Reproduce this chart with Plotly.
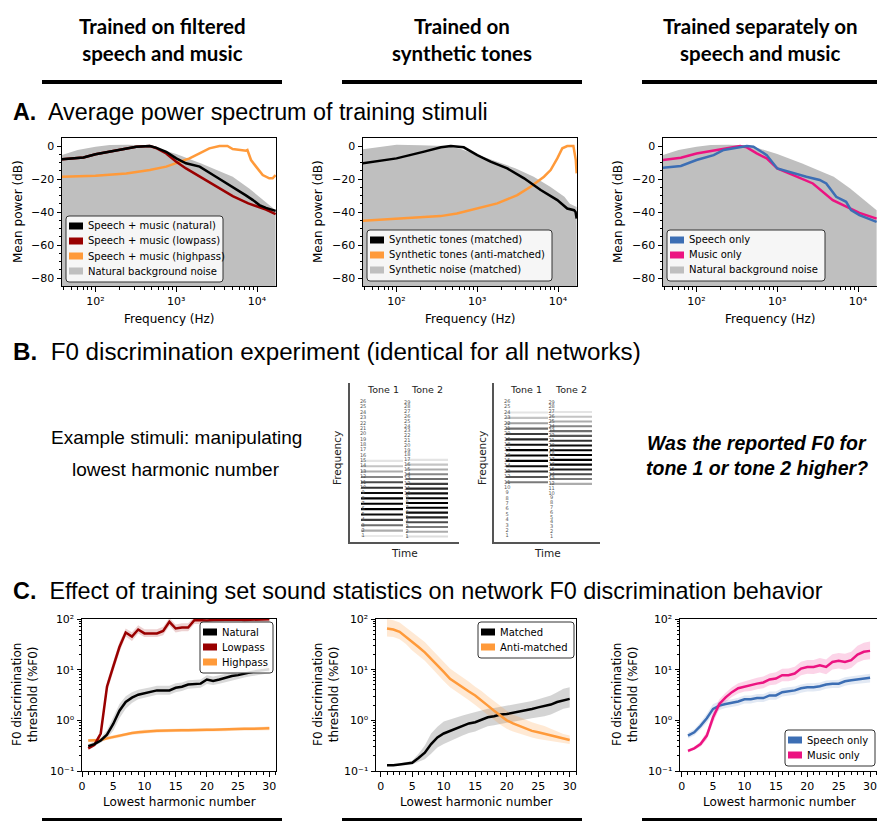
import plotly.graph_objects as go

W, H = 877, 821

# ======================= DATA =======================
# --- Panel A1: filtered speech and music (frequency in Hz, power in dB)
a1_nat_f = [38, 71, 100, 150, 240, 320, 470, 560, 750, 1000, 1320, 1950, 3100, 5000, 7200, 8900, 10700, 12900, 17000]
a1_nat_db = [-8, -7, -5, -3.5, -1.5, -0.5, 0, -1, -3.5, -7.5, -10.5, -12.5, -18.6, -24.7, -29.8, -32.8, -35.8, -37.5, -39.3]
a1_low_f = [38, 71, 100, 150, 240, 320, 470, 560, 750, 1000, 1320, 1950, 3100, 5000, 7800, 12900, 17000]
a1_low_db = [-8, -7, -5, -3.5, -1.5, -0.5, 0, -1.2, -4.5, -9.5, -13.6, -18.6, -24.7, -30.4, -34.8, -38.5, -41.3]
a1_high_f = [38, 100, 240, 470, 750, 1000, 1460, 1940, 2570, 3430, 4300, 5000, 7310, 7600, 8430, 9730, 11760, 14190, 15600, 17000]
a1_high_db = [-18.6, -18, -16.6, -14.6, -12.5, -10.5, -7.5, -4.5, -1.4, 0, 0, -1.8, -2.8, -2.4, -8.5, -12.5, -17.6, -19.6, -19.6, -17.6]
noise_nat_f = [38, 60, 100, 150, 250, 400, 600, 1000, 2000, 3000, 5000, 8000, 10000, 12500, 17000]
noise_nat_db = [-5.5, -2.4, -0.4, 0.6, 0.8, 0.4, -1.5, -4.9, -10.5, -14, -18.6, -25.7, -29.8, -33.8, -39]

# --- Panel A2: synthetic tones
a2_noise_f = [38, 70, 100, 200, 400, 600, 1000, 2000, 3000, 5000, 8000, 12000, 14000, 17000]
a2_noise_db = [-2, -0.5, 0.8, 0.5, 0, -1.5, -5.5, -10.5, -13.6, -18.6, -24.7, -30.8, -35, -37]
a2_match_f = [38, 100, 220, 355, 470, 680, 1000, 1460, 2350, 3800, 6100, 9800, 13000, 15800, 16500, 17000]
a2_match_db = [-10.5, -7.5, -3.4, -0.8, 0, -0.8, -5.5, -9.5, -13.6, -19.6, -26.7, -32.8, -37.9, -38.9, -40, -44]
a2_anti_f = [38, 100, 350, 560, 1000, 1770, 3130, 4570, 6700, 8100, 9800, 11300, 13000, 15500, 16600, 17000]
a2_anti_db = [-45.3, -44, -42.5, -40.9, -37.9, -34.8, -29.8, -24.7, -18.6, -14.6, -7.5, -1.4, 0, 0, -8.5, -16.6]

# --- Panel A3: speech only / music only
a3_speech_f = [38, 64, 100, 163, 217, 316, 420, 507, 740, 1000, 1575, 2290, 3350, 4040, 5370, 7120, 8200, 10400, 17000]
a3_speech_db = [-13.2, -12.1, -8.5, -5.5, -2.4, -0.8, 0, -0.4, -5.5, -13.6, -16.6, -18.6, -20.6, -22.7, -30.8, -33.8, -38.9, -41.9, -46]
a3_music_f = [38, 64, 100, 163, 262, 347, 420, 557, 740, 1000, 1575, 2760, 4870, 7120, 10400, 17000]
a3_music_db = [-8.5, -7.1, -4.5, -2.8, -0.8, 0, -0.8, -4.5, -7.5, -13.6, -17.6, -22.7, -32.8, -36.8, -40.5, -44]

# --- Panel B: example stimuli (harmonic numbers and relative amplitudes 0..1)
tone_f0 = [1.0, 0.893]
tone1_label_nums = list(range(1, 27))
tone2_label_nums = list(range(1, 30))
b1_t1_harm = list(range(1, 16))
b1_t1_amp = [0.05, 0.3, 0.55, 0.75, 0.95, 1.0, 1.0, 1.0, 0.95, 0.8, 0.7, 0.45, 0.3, 0.2, 0.07]
b1_t2_harm = list(range(1, 18))
b1_t2_amp = [0.1, 0.3, 0.5, 0.7, 0.85, 0.95, 1.0, 1.0, 1.0, 0.95, 0.85, 0.75, 0.55, 0.45, 0.3, 0.2, 0.07]
b2_t1_harm = list(range(11, 25))
b2_t1_amp = [0.5, 0.65, 0.8, 0.95, 1.0, 1.0, 1.0, 0.95, 0.85, 0.75, 0.55, 0.35, 0.2, 0.07]
b2_t2_harm = list(range(12, 28))
b2_t2_amp = [0.3, 0.5, 0.7, 0.9, 1.0, 1.0, 1.0, 1.0, 0.95, 0.8, 0.65, 0.55, 0.45, 0.3, 0.2, 0.07]

# --- Panel C: F0 discrimination thresholds (%F0) vs lowest harmonic number
harm = list(range(1, 31))
c1_nat = [0.31, 0.34, 0.40, 0.52, 0.85, 1.55, 2.3, 2.8, 3.2, 3.4, 3.7, 3.9, 3.9, 3.9, 4.4, 4.6, 5.1, 5.2, 5.3, 6.4, 6.0, 6.4, 6.9, 7.5, 7.8, 8.4, 8.9, 9.4, 9.8, 10.2]
c1_nat_lo = [0.28, 0.31, 0.36, 0.44, 0.62, 1.1, 1.7, 2.2, 2.6, 2.8, 3.0, 3.2, 3.2, 3.2, 3.6, 3.8, 4.2, 4.3, 4.4, 5.2, 5.0, 5.3, 5.7, 6.2, 6.5, 7.0, 7.4, 7.8, 8.1, 8.5]
c1_nat_hi = [0.34, 0.38, 0.46, 0.64, 1.15, 2.1, 3.0, 3.6, 4.0, 4.2, 4.5, 4.8, 4.8, 4.8, 5.4, 5.6, 6.2, 6.3, 6.4, 7.8, 7.3, 7.8, 8.4, 9.1, 9.5, 10.2, 10.8, 11.4, 11.9, 12.4]
c1_low = [0.28, 0.33, 0.55, 4.6, 11.5, 28, 54, 45, 62, 52, 52, 52, 58, 88, 65, 68, 68, 95, 95, 93, 96, 97, 95, 97, 98, 96, 97, 98, 99, 99]
c1_low_lo = [0.26, 0.30, 0.48, 3.6, 9.0, 22, 45, 37, 52, 44, 44, 44, 48, 74, 54, 57, 57, 80, 80, 78, 80, 82, 80, 82, 83, 81, 82, 83, 84, 84]
c1_low_hi = [0.31, 0.36, 0.63, 5.8, 14.5, 35, 65, 55, 75, 63, 63, 63, 70, 105, 78, 82, 82, 112, 112, 110, 114, 115, 112, 115, 116, 114, 115, 116, 117, 117]
c1_high = [0.40, 0.40, 0.41, 0.44, 0.47, 0.50, 0.53, 0.56, 0.58, 0.60, 0.61, 0.62, 0.63, 0.64, 0.64, 0.64, 0.64, 0.65, 0.65, 0.65, 0.65, 0.66, 0.66, 0.67, 0.67, 0.68, 0.68, 0.69, 0.69, 0.70]
c1_high_lo = [0.37, 0.37, 0.38, 0.41, 0.43, 0.46, 0.49, 0.52, 0.53, 0.55, 0.56, 0.57, 0.58, 0.59, 0.59, 0.59, 0.59, 0.60, 0.60, 0.60, 0.60, 0.61, 0.61, 0.62, 0.62, 0.63, 0.63, 0.64, 0.64, 0.64]
c1_high_hi = [0.43, 0.43, 0.44, 0.48, 0.51, 0.54, 0.57, 0.60, 0.63, 0.65, 0.66, 0.67, 0.68, 0.69, 0.69, 0.69, 0.69, 0.70, 0.70, 0.70, 0.70, 0.71, 0.71, 0.72, 0.72, 0.73, 0.73, 0.75, 0.75, 0.76]

c2_match = [0.13, 0.13, 0.135, 0.14, 0.145, 0.18, 0.23, 0.34, 0.46, 0.55, 0.62, 0.70, 0.78, 0.87, 0.92, 1.03, 1.15, 1.2, 1.3, 1.33, 1.4, 1.5, 1.6, 1.67, 1.8, 1.9, 2.05, 2.3, 2.5, 2.65]
c2_match_lo = [0.125, 0.125, 0.13, 0.13, 0.135, 0.15, 0.17, 0.22, 0.29, 0.34, 0.39, 0.44, 0.50, 0.56, 0.60, 0.68, 0.76, 0.80, 0.86, 0.90, 0.94, 1.0, 1.05, 1.1, 1.15, 1.2, 1.3, 1.5, 1.7, 1.8]
c2_match_hi = [0.135, 0.135, 0.14, 0.15, 0.16, 0.22, 0.32, 0.55, 0.75, 0.95, 1.05, 1.15, 1.25, 1.35, 1.45, 1.55, 1.7, 1.75, 1.85, 1.9, 2.0, 2.15, 2.3, 2.4, 2.6, 2.8, 3.1, 3.6, 4.2, 4.5]
c2_anti = [65, 62, 56, 45, 35, 28, 22, 16.5, 12.2, 9.0, 6.6, 5.4, 4.6, 3.7, 3.1, 2.5, 1.95, 1.55, 1.24, 1.0, 0.87, 0.78, 0.7, 0.62, 0.58, 0.54, 0.5, 0.46, 0.43, 0.41]
c2_anti_lo = [45, 44, 40, 32, 24, 19, 15, 11, 8.3, 6.0, 4.5, 3.7, 3.1, 2.5, 2.0, 1.6, 1.25, 1.0, 0.82, 0.68, 0.6, 0.55, 0.5, 0.46, 0.43, 0.41, 0.39, 0.37, 0.35, 0.34]
c2_anti_hi = [100, 95, 85, 68, 55, 44, 35, 26, 19, 14, 10.5, 8.6, 7.2, 5.8, 4.6, 3.8, 3.0, 2.4, 1.9, 1.55, 1.3, 1.15, 1.02, 0.92, 0.84, 0.77, 0.68, 0.6, 0.54, 0.5]

c3_speech = [0.5, 0.58, 0.78, 1.1, 1.68, 1.95, 2.1, 2.2, 2.35, 2.6, 2.6, 2.75, 2.75, 3.1, 3.1, 3.6, 3.8, 3.9, 4.3, 4.5, 4.5, 4.7, 5.1, 5.3, 5.3, 5.9, 6.2, 6.4, 6.7, 6.9]
c3_speech_lo = [0.44, 0.5, 0.66, 0.9, 1.35, 1.6, 1.75, 1.85, 1.95, 2.15, 2.15, 2.3, 2.3, 2.55, 2.55, 2.95, 3.1, 3.2, 3.5, 3.7, 3.7, 3.85, 4.2, 4.35, 4.35, 4.8, 5.1, 5.25, 5.5, 5.6]
c3_speech_hi = [0.57, 0.67, 0.92, 1.35, 2.1, 2.35, 2.5, 2.6, 2.8, 3.1, 3.1, 3.3, 3.3, 3.7, 3.7, 4.3, 4.5, 4.65, 5.1, 5.4, 5.4, 5.6, 6.1, 6.3, 6.3, 7.1, 7.4, 7.7, 8.1, 8.3]
c3_music = [0.25, 0.28, 0.34, 0.5, 1.15, 2.1, 2.85, 3.6, 4.3, 4.65, 4.9, 5.3, 5.6, 6.4, 6.7, 7.8, 7.8, 8.4, 10.5, 11.3, 11.3, 12.2, 11.3, 14.2, 14.9, 14.2, 15.4, 19.9, 22.5, 23.5]
c3_music_lo = [0.23, 0.26, 0.3, 0.42, 0.9, 1.7, 2.3, 2.9, 3.4, 3.7, 3.8, 4.1, 4.3, 4.9, 5.1, 5.9, 5.9, 6.3, 7.8, 8.3, 8.2, 8.8, 8.1, 10.1, 10.5, 10.0, 10.8, 13.9, 15.5, 16.0]
c3_music_hi = [0.27, 0.3, 0.38, 0.6, 1.45, 2.6, 3.5, 4.5, 5.4, 5.9, 6.3, 6.9, 7.3, 8.4, 8.9, 10.4, 10.5, 11.4, 14.3, 15.5, 15.6, 17.0, 15.9, 20.2, 21.4, 20.6, 22.6, 29.5, 33.8, 36.0]

# Tick labels
a_x_tickvals = [100, 1000, 10000]
a_x_ticktext = ['10\u00b2', '10\u00b3', '10\u2074']
a_y_tickvals = [0, -20, -40, -60, -80]
a_y_ticktext = ['0', '\u221220', '\u221240', '\u221260', '\u221280']
c_x_tickvals = [0, 5, 10, 15, 20, 25, 30]
c_y_tickvals = [0.1, 1, 10, 100]
c_y_ticktext = ['10\u207b\u00b9', '10\u2070', '10\u00b9', '10\u00b2']

# Legend entries
leg_a1 = ['Speech + music (natural)', 'Speech + music (lowpass)', 'Speech + music (highpass)', 'Natural background noise']
leg_a2 = ['Synthetic tones (matched)', 'Synthetic tones (anti-matched)', 'Synthetic noise (matched)']
leg_a3 = ['Speech only', 'Music only', 'Natural background noise']
leg_c1 = ['Natural', 'Lowpass', 'Highpass']
leg_c2 = ['Matched', 'Anti-matched']
leg_c3 = ['Speech only', 'Music only']

# ======================= STYLE =======================
BLACK = '#000000'
DARKRED = '#990000'
ORANGE = '#ff9a3a'
BLUE = '#3c6eb4'
PINK = '#ec1381'
GRAY = '#bfbfbf'
TICKFONT = dict(family='DejaVu Sans', size=11, color='black')
LABFONT = dict(family='DejaVu Sans', size=12, color='black')


def px(x):
    return x / W


def py(y):
    return 1 - y / H


def dx(a, b):
    return [a / W, b / W]


def dy(top, bot):
    return [1 - bot / H, 1 - top / H]


def ax_id(i, letter):
    return letter if i == 1 else f'{letter}{i}'


def log_minor(lo, hi):
    return [m * 10 ** e for e in range(lo, hi + 1) for m in range(2, 10)]


fig = go.Figure()


def add_line(i, x, y, color, width=2.5):
    fig.add_trace(go.Scatter(x=x, y=y, mode='lines', line=dict(color=color, width=width),
                             xaxis=ax_id(i, 'x'), yaxis=ax_id(i, 'y'), showlegend=False, hoverinfo='skip'))


def add_fill_below(i, x, y, color):
    fig.add_trace(go.Scatter(x=x, y=[-90] * len(x), mode='lines', line=dict(width=0),
                             xaxis=ax_id(i, 'x'), yaxis=ax_id(i, 'y'), showlegend=False, hoverinfo='skip'))
    fig.add_trace(go.Scatter(x=x, y=y, mode='lines', line=dict(width=0, color=color), fill='tonexty',
                             fillcolor=color, xaxis=ax_id(i, 'x'), yaxis=ax_id(i, 'y'),
                             showlegend=False, hoverinfo='skip'))


def add_band(i, x, lo, hi, color):
    fig.add_trace(go.Scatter(x=x, y=lo, mode='lines', line=dict(width=0),
                             xaxis=ax_id(i, 'x'), yaxis=ax_id(i, 'y'), showlegend=False, hoverinfo='skip'))
    fig.add_trace(go.Scatter(x=x, y=hi, mode='lines', line=dict(width=0), fill='tonexty',
                             fillcolor=color, xaxis=ax_id(i, 'x'), yaxis=ax_id(i, 'y'),
                             showlegend=False, hoverinfo='skip'))


# ---- Panel A traces
add_fill_below(1, noise_nat_f, noise_nat_db, GRAY)
add_line(1, a1_high_f, a1_high_db, ORANGE)
add_line(1, a1_low_f, a1_low_db, DARKRED)
add_line(1, a1_nat_f, a1_nat_db, BLACK)

add_fill_below(2, a2_noise_f, a2_noise_db, GRAY)
add_line(2, a2_anti_f, a2_anti_db, ORANGE)
add_line(2, a2_match_f, a2_match_db, BLACK)

add_fill_below(3, noise_nat_f, noise_nat_db, GRAY)
add_line(3, a3_music_f, a3_music_db, PINK)
add_line(3, a3_speech_f, a3_speech_db, BLUE)


# ---- Panel B traces (stimulus schematics)
def gray_of(a):
    v = int(round(245 - 245 * a))
    return f'rgb({v},{v},{v})'


def add_tone(i, pos, f0, harmonics, amps, label_nums, label_off):
    fig.add_trace(go.Scatter(
        x=[pos] * len(harmonics), y=[h * f0 for h in harmonics], mode='markers',
        marker=dict(symbol='line-ew', size=30, line=dict(width=2.1, color=[gray_of(a) for a in amps])),
        xaxis=ax_id(i, 'x'), yaxis=ax_id(i, 'y'), showlegend=False, hoverinfo='skip'))
    fig.add_trace(go.Scatter(
        x=[pos - label_off] * len(label_nums), y=[n * f0 for n in label_nums], mode='text',
        text=[str(n) for n in label_nums], textfont=dict(family='DejaVu Sans', size=5, color='#555'),
        xaxis=ax_id(i, 'x'), yaxis=ax_id(i, 'y'), showlegend=False, hoverinfo='skip'))


add_tone(4, 1, tone_f0[0], b1_t1_harm, b1_t1_amp, tone1_label_nums, 0.42)
add_tone(4, 2, tone_f0[1], b1_t2_harm, b1_t2_amp, tone2_label_nums, 0.44)
add_tone(5, 1, tone_f0[0], b2_t1_harm, b2_t1_amp, tone1_label_nums, 0.45)
add_tone(5, 2, tone_f0[1], b2_t2_harm, b2_t2_amp, tone2_label_nums, 0.44)

# ---- Panel C traces
add_band(6, harm, c1_high_lo, c1_high_hi, 'rgba(255,154,58,0.25)')
add_band(6, harm, c1_low_lo, c1_low_hi, 'rgba(153,0,0,0.18)')
add_band(6, harm, c1_nat_lo, c1_nat_hi, 'rgba(0,0,0,0.15)')
add_line(6, harm, c1_high, ORANGE)
add_line(6, harm, c1_low, DARKRED)
add_line(6, harm, c1_nat, BLACK)

add_band(7, harm, c2_match_lo, c2_match_hi, 'rgba(0,0,0,0.17)')
add_band(7, harm, c2_anti_lo, c2_anti_hi, 'rgba(255,154,58,0.22)')
add_line(7, harm, c2_match, BLACK)
add_line(7, harm, c2_anti, ORANGE)

add_band(8, harm, c3_speech_lo, c3_speech_hi, 'rgba(60,110,180,0.15)')
add_band(8, harm, c3_music_lo, c3_music_hi, 'rgba(236,19,129,0.18)')
add_line(8, harm, c3_speech, BLUE)
add_line(8, harm, c3_music, PINK)

# ======================= AXES =======================
base = dict(showline=True, linecolor='black', linewidth=1, mirror=True, ticks='outside', ticklen=4.5,
            tickwidth=1, tickcolor='black', showgrid=False, zeroline=False, tickfont=TICKFONT,
            automargin=False, ticklabeloverflow='allow')
minor_log = dict(tickmode='array', ticks='outside', ticklen=2.5, tickwidth=0.8, tickcolor='black', showgrid=False)

layout_axes = {}
a_xdom = [dx(62, 276), dx(363, 577), dx(663, 877)]
for k, d in enumerate(a_xdom, start=1):
    layout_axes['xaxis' if k == 1 else f'xaxis{k}'] = dict(
        base, domain=d, type='log', range=[1.585, 4.235], tickmode='array', tickvals=a_x_tickvals,
        ticktext=a_x_ticktext, anchor=ax_id(k, 'y'), minor=dict(minor_log, tickvals=log_minor(1, 4)))
    layout_axes['yaxis' if k == 1 else f'yaxis{k}'] = dict(
        base, domain=dy(138, 286), range=[-84.85, 4.85], tickmode='array', tickvals=a_y_tickvals,
        ticktext=a_y_ticktext, anchor=ax_id(k, 'x'),
        minor=dict(tickmode='linear', tick0=0, dtick=5, ticks='outside', ticklen=2.5, tickwidth=0.8,
                   tickcolor='black', showgrid=False))

stim = dict(showline=True, linecolor='#555', linewidth=1.5, mirror=False, ticks='', showticklabels=False,
            showgrid=False, zeroline=False, automargin=False)
layout_axes['xaxis4'] = dict(stim, domain=dx(350, 459), range=[0.289, 2.711], anchor='y4')
layout_axes['yaxis4'] = dict(stim, domain=dy(383, 542), range=[-0.12, 29.5], anchor='x4')
layout_axes['xaxis5'] = dict(stim, domain=dx(494, 600), range=[0.25, 2.66], anchor='y5')
layout_axes['yaxis5'] = dict(stim, domain=dy(383, 542), range=[-0.12, 29.5], anchor='x5')

c_xdom = [(dx(82, 276), [0, 31.07]), (dx(376, 576), [-0.75, 31.0]), (dx(680, 877), [-0.27, 31.1])]
for k, (d, r) in enumerate(c_xdom, start=6):
    layout_axes[f'xaxis{k}'] = dict(
        base, domain=d, range=r, tickmode='array', tickvals=c_x_tickvals, anchor=f'y{k}',
        minor=dict(tickmode='linear', tick0=0, dtick=1, ticks='outside', ticklen=2.5, tickwidth=0.8,
                   tickcolor='black', showgrid=False))
    layout_axes[f'yaxis{k}'] = dict(
        base, domain=dy(619, 771), type='log', range=[-1, 2], tickmode='array', tickvals=c_y_tickvals,
        ticktext=c_y_ticktext, anchor=f'x{k}', minor=dict(minor_log, tickvals=log_minor(-1, 1)))

fig.update_layout(width=W, height=H, margin=dict(l=0, r=0, t=0, b=0, autoexpand=False),
                  paper_bgcolor='white', plot_bgcolor='rgba(0,0,0,0)', showlegend=False, **layout_axes)


# ======================= LEGENDS (boxes) =======================
def rounded_path(x0, y0, x1, y1, r=3):
    rx, ry = r / W, r / H
    X0, X1 = px(x0), px(x1)
    Y0, Y1 = py(y0), py(y1)   # Y0 top (larger), Y1 bottom
    return (f'M {X0 + rx},{Y0} L {X1 - rx},{Y0} Q {X1},{Y0} {X1},{Y0 - ry} '
            f'L {X1},{Y1 + ry} Q {X1},{Y1} {X1 - rx},{Y1} L {X0 + rx},{Y1} Q {X0},{Y1} {X0},{Y1 + ry} '
            f'L {X0},{Y0 - ry} Q {X0},{Y0} {X0 + rx},{Y0} Z')


def draw_legend(left, top, width, labels, colors):
    n = len(labels)
    height = 15 * n + 6
    fig.add_shape(type='path', xref='paper', yref='paper', path=rounded_path(left, top, left + width, top + height),
                  line=dict(color='#333', width=1), fillcolor='rgba(255,255,255,0.85)', layer='above')
    for i, (lab, col) in enumerate(zip(labels, colors)):
        cy = top + 10 + 15 * i
        fig.add_shape(type='rect', xref='paper', yref='paper', x0=px(left + 3), x1=px(left + 17),
                      y0=py(cy + 3.5), y1=py(cy - 3.5), fillcolor=col, line=dict(width=0), layer='above')
        fig.add_annotation(x=px(left + 20), y=py(cy), xref='paper', yref='paper', text=lab, showarrow=False,
                           xanchor='left', yanchor='middle', font=dict(family='DejaVu Sans', size=10, color='black'))


draw_legend(66, 216, 157, leg_a1, [BLACK, DARKRED, ORANGE, GRAY])
draw_legend(367, 230, 185, leg_a2, [BLACK, ORANGE, GRAY])
draw_legend(667, 230, 158, leg_a3, [BLUE, PINK, GRAY])
draw_legend(200, 622, 73, leg_c1, [BLACK, DARKRED, ORANGE])
draw_legend(478, 622, 96, leg_c2, [BLACK, ORANGE])
draw_legend(785, 730, 90, leg_c3, [BLUE, PINK])


# ======================= TEXT =======================
def note(x, y, text, font, xanchor='center', angle=0):
    fig.add_annotation(x=px(x), y=py(y), xref='paper', yref='paper', text=text, showarrow=False,
                       xanchor=xanchor, yanchor='middle', font=font, textangle=angle)


HEAD = dict(family='Lato', size=20.5, color='black')
for cx, t in [(162, 'Trained on filtered<br>speech and music'), (462, 'Trained on<br>synthetic tones'),
              (760, 'Trained separately on<br>speech and music')]:
    note(cx, 40, f'<b>{t}</b>', HEAD)

for x0, x1 in [(42, 282), (342, 582), (642, 877)]:
    fig.add_shape(type='line', xref='paper', yref='paper', x0=px(x0), x1=px(x1), y0=py(82), y1=py(82),
                  line=dict(color='black', width=4))
    fig.add_shape(type='line', xref='paper', yref='paper', x0=px(x0), x1=px(x1), y0=py(820), y1=py(820),
                  line=dict(color='black', width=4))

SEC = dict(family='Liberation Sans', size=23.3, color='black')
NB = '\u00a0'
note(11, 112, f'<b>A.</b>{NB} Average power spectrum of training stimuli', SEC, 'left')
note(11, 351, f'<b>B.</b>{NB} F0 discrimination experiment (identical for all networks)', dict(SEC, size=24.2), 'left')
note(11, 591, f'<b>C.</b>{NB} Effect of training set sound statistics on network F0 discrimination behavior',
     dict(SEC, size=23.4), 'left')

# axis titles
for cx in [169, 470, 770]:
    note(cx, 319, 'Frequency (Hz)', LABFONT)
for cx in [18, 318, 618]:
    note(cx, 212, 'Mean power (dB)', LABFONT, angle=-90)
for cx in [179, 476, 779]:
    note(cx, 802, 'Lowest harmonic number', LABFONT)
for cx in [25, 326, 625]:
    note(cx, 695, 'F0 discrimination<br>threshold (%F0)', LABFONT, angle=-90)

# panel B texts
BODY = dict(family='Liberation Sans', size=19, color='black')
note(176, 438, 'Example stimuli: manipulating', BODY)
note(176, 469, 'lowest harmonic number', BODY)
QF = dict(family='Liberation Sans', size=19.5, color='black')
note(757, 443, '<b><i>Was the reported F0 for</i></b>', QF)
note(757, 468, '<b><i>tone 1 or tone 2 higher?</i></b>', QF)

SF = dict(family='DejaVu Sans', size=9.5, color='#222')
note(383, 389, 'Tone 1', SF)
note(427, 389, 'Tone 2', SF)
note(526, 389, 'Tone 1', SF)
note(571, 389, 'Tone 2', SF)
AF = dict(family='DejaVu Sans', size=10.5, color='#222')
note(337, 458, 'Frequency', AF, angle=-90)
note(482, 458, 'Frequency', AF, angle=-90)
note(404, 553, 'Time', AF)
note(547, 553, 'Time', AF)

fig.write_html('out.html', config={'displayModeBar': False},
               post_script="document.body.style.margin='0px';")
